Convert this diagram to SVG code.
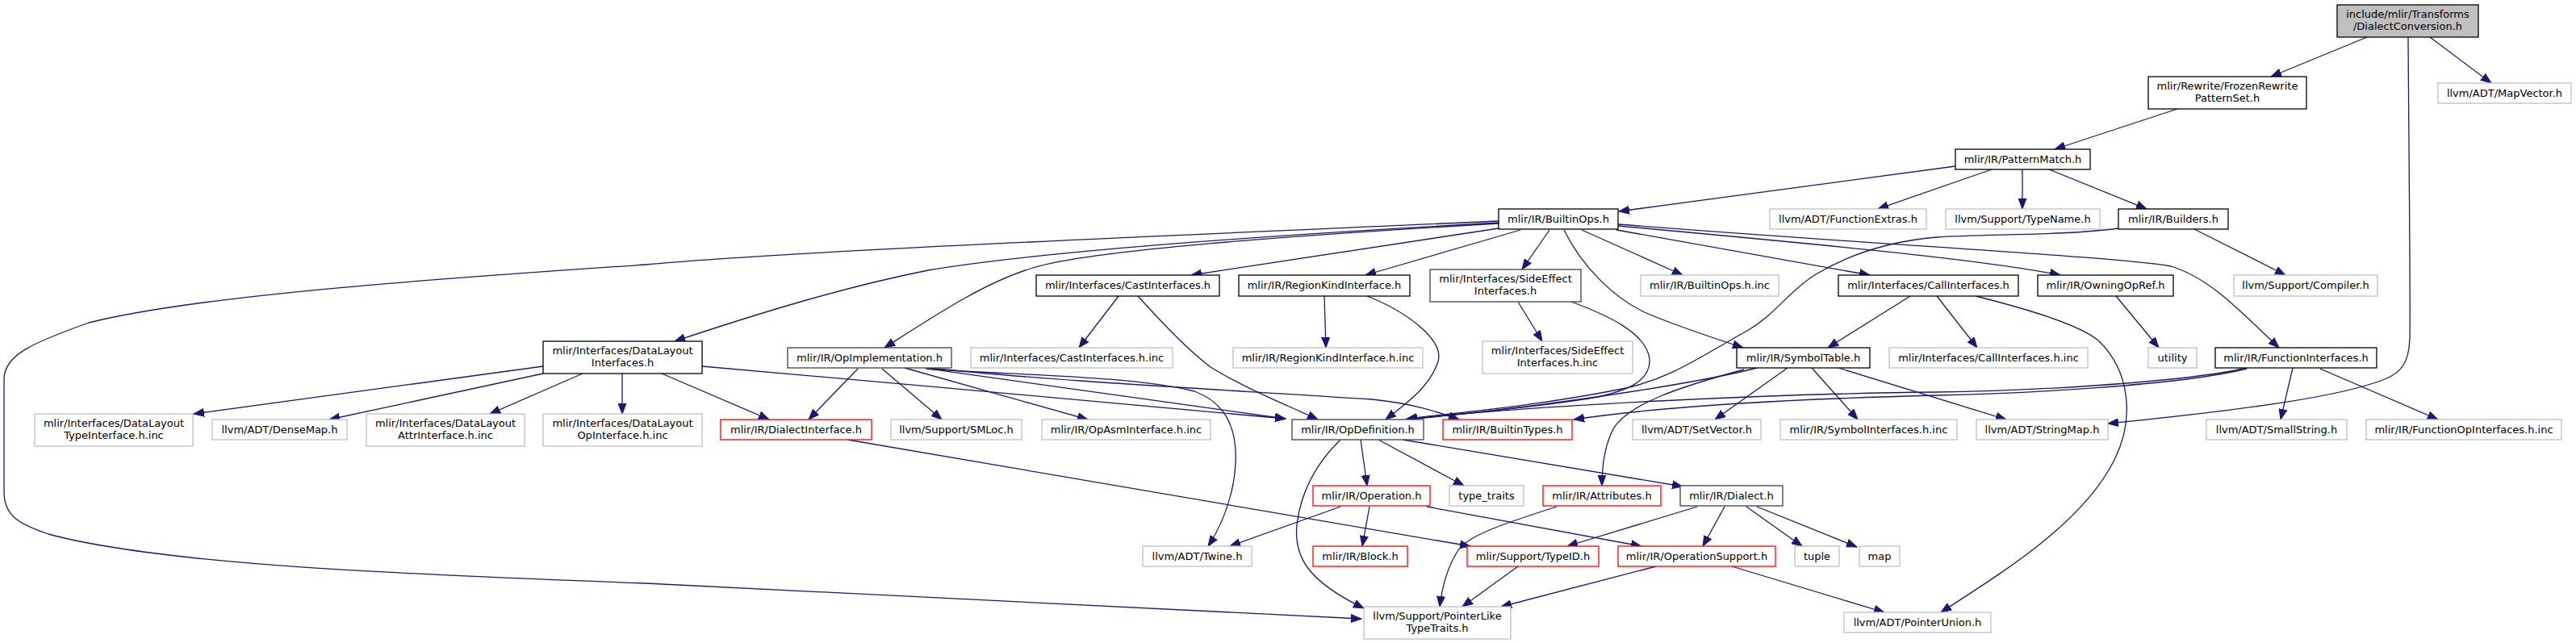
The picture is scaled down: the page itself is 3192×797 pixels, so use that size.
<svg xmlns="http://www.w3.org/2000/svg" width="3192" height="797" viewBox="0 0 3192 797">
<style>
.n rect{fill:#fff;stroke:#000;stroke-width:1.3}
.g rect{stroke:#bfbfbf}
.r rect{stroke:#ff0000}
.dk rect{stroke:#404040}
.root rect{fill:#bfbfbf}
text{font-family:"DejaVu Sans","Liberation Sans",sans-serif;font-size:13px;text-anchor:middle;fill:#000}
.e path{fill:none;stroke:#191970;stroke-width:1.3;marker-end:url(#a)}
</style>
<defs>
<marker id="a" markerUnits="userSpaceOnUse" markerWidth="14" markerHeight="11" refX="13" refY="5.5" orient="auto" viewBox="0 0 14 11"><path d="M0,0.5 L13,5.5 L0,10.5 z" fill="#191970" stroke="#191970" stroke-width="1"/></marker>
</defs>
<rect width="3192" height="797" fill="#fff"/>
<g id="edges" class="e">
<path d="M2933,46 L2814,95"/>
<path d="M3011,46 L3087,103"/>
<path d="M2984,46 C2985,200 2987,380 2986,420 C2985,450 2975,462 2955,470 C2900,492 2780,508 2612,525"/>
<path d="M2698,135 L2546,185"/>
<path d="M2423,206 L2006,262"/>
<path d="M2468,210 L2327,259"/>
<path d="M2506,210 L2506,259"/>
<path d="M2539,210 L2660,259"/>
<path d="M2719,284 L2832,341"/>
<path d="M2625,283 C2560,292 2460,290 2400,294 C2330,300 2280,322 2250,340 C2215,362 2200,390 2165,410 C2110,440 2070,470 2010,482 C1900,504 1800,512 1743,519"/>
<path d="M1857,274 C1500,290 1000,310 800,328 C550,345 250,365 110,400 C40,425 5,440 5,470 L5,610 C5,640 25,650 60,662 C200,700 500,712 800,723 C1200,745 1500,760 1687,767"/>
<path d="M1857,276 C1600,290 1300,310 1150,335 C1050,355 950,385 836,423"/>
<path d="M1857,277 C1600,292 1350,310 1280,332 C1220,350 1160,390 1096,431"/>
<path d="M1857,283 L1476,341"/>
<path d="M1884,285 L1692,341"/>
<path d="M1920,285 L1886,334"/>
<path d="M1938,285 C1960,330 2000,370 2040,388 C2080,405 2120,418 2160,431"/>
<path d="M1960,285 L2085,341"/>
<path d="M2003,285 L2317,341"/>
<path d="M2005,280 C2200,298 2450,320 2553,341"/>
<path d="M2005,278 C2350,305 2620,318 2690,330 C2740,345 2780,390 2824,431"/>
<path d="M2367,367 L2265,431"/>
<path d="M2400,367 L2450,431"/>
<path d="M2448,367 C2520,385 2580,405 2600,422 C2640,460 2645,520 2620,570 C2580,650 2480,710 2405,759"/>
<path d="M1641,367 L1643,431"/>
<path d="M1694,367 C1740,385 1790,420 1782,448 C1772,480 1740,502 1717,520"/>
<path d="M1881,374 L1911,423"/>
<path d="M1947,374 C1990,390 2040,412 2044,445 C2046,475 2010,485 1980,492 C1900,506 1800,513 1743,520"/>
<path d="M1386,367 L1337,431"/>
<path d="M1410,367 C1440,400 1470,432 1500,455 C1540,480 1590,500 1633,520"/>
<path d="M2622,367 L2675,431"/>
<path d="M2177,456 C2100,476 1900,506 1743,520"/>
<path d="M2161,458 C2080,480 2020,500 2000,530 C1988,552 1985,580 1985,602"/>
<path d="M2215,456 L2125,520"/>
<path d="M2245,456 L2302,520"/>
<path d="M2278,456 L2486,520"/>
<path d="M2784,456 C2700,475 2500,485 2400,486 C2200,488 1900,502 1743,520"/>
<path d="M2784,457 C2700,478 2500,488 2400,490 C2200,495 2050,505 1950,520"/>
<path d="M2841,456 L2826,520"/>
<path d="M2875,457 L3021,520"/>
<path d="M1063,457 L1002,520"/>
<path d="M1093,457 L1167,520"/>
<path d="M1121,456 L1348,520"/>
<path d="M1147,457 C1250,465 1400,465 1480,485 C1535,505 1535,560 1528,600 C1520,640 1505,665 1497,677"/>
<path d="M1150,457 C1300,478 1450,500 1593,519"/>
<path d="M1152,456 C1300,472 1500,482 1700,495 C1750,500 1780,510 1808,520"/>
<path d="M673,454 L240,513"/>
<path d="M673,463 L408,520"/>
<path d="M722,463 L607,513"/>
<path d="M771,463 L771,513"/>
<path d="M820,463 L953,520"/>
<path d="M870,454 C1100,475 1400,500 1593,519"/>
<path d="M1050,545 L1822,677"/>
<path d="M1686,545 L1694,602"/>
<path d="M1708,545 L1814,602"/>
<path d="M1738,545 L2085,603"/>
<path d="M1661,545 C1630,575 1612,610 1607,650 C1603,690 1620,720 1690,754"/>
<path d="M1661,628 L1524,677"/>
<path d="M1697,628 L1688,677"/>
<path d="M1768,628 L2034,677"/>
<path d="M1929,628 C1860,650 1815,665 1805,685 C1790,710 1786,735 1784,752"/>
<path d="M2103,628 L1942,677"/>
<path d="M2137,628 L2110,677"/>
<path d="M2164,628 L2233,677"/>
<path d="M2177,628 L2301,678"/>
<path d="M1881,702 L1812,752"/>
<path d="M2052,702 L1860,752"/>
<path d="M2146,702 L2335,759"/>
</g>
<g id="n_root" class="n root"><rect x="2896" y="6" width="175" height="40"/><text x="2983.5" y="21.5">include/mlir/Transforms</text><text x="2983.5" y="37">/DialectConversion.h</text></g>
<g id="n_frozen" class="n"><rect x="2662" y="95" width="196" height="40"/><text x="2760" y="110.5">mlir/Rewrite/FrozenRewrite</text><text x="2760" y="126">PatternSet.h</text></g>
<g id="n_mapvector" class="n g"><rect x="3021" y="103" width="165" height="25"/><text x="3103.5" y="120">llvm/ADT/MapVector.h</text></g>
<g id="n_patternmatch" class="n"><rect x="2423" y="185" width="167" height="25"/><text x="2506.5" y="202">mlir/IR/PatternMatch.h</text></g>
<g id="n_functionextras" class="n g"><rect x="2193" y="259" width="194" height="25"/><text x="2290" y="276">llvm/ADT/FunctionExtras.h</text></g>
<g id="n_typename" class="n g"><rect x="2411" y="259" width="191" height="25"/><text x="2506.5" y="276">llvm/Support/TypeName.h</text></g>
<g id="n_builders" class="n"><rect x="2625" y="259" width="136" height="25"/><text x="2693" y="276">mlir/IR/Builders.h</text></g>
<g id="n_builtinops" class="n"><rect x="1857" y="259" width="148" height="25"/><text x="1931" y="276">mlir/IR/BuiltinOps.h</text></g>
<g id="n_datalayout" class="n"><rect x="673" y="423" width="197" height="40"/><text x="771.5" y="438.5">mlir/Interfaces/DataLayout</text><text x="771.5" y="454">Interfaces.h</text></g>
<g id="n_opimpl" class="n dk"><rect x="976" y="431" width="203" height="25"/><text x="1077.5" y="448">mlir/IR/OpImplementation.h</text></g>
<g id="n_cast" class="n"><rect x="1284" y="341" width="227" height="26"/><text x="1397.5" y="358">mlir/Interfaces/CastInterfaces.h</text></g>
<g id="n_regionkind" class="n"><rect x="1535" y="341" width="212" height="26"/><text x="1641" y="358">mlir/IR/RegionKindInterface.h</text></g>
<g id="n_sideeffect" class="n dk"><rect x="1772" y="334" width="187" height="40"/><text x="1865.5" y="349.5">mlir/Interfaces/SideEffect</text><text x="1865.5" y="365">Interfaces.h</text></g>
<g id="n_builtinopsinc" class="n g"><rect x="2033" y="341" width="171" height="26"/><text x="2118.5" y="358">mlir/IR/BuiltinOps.h.inc</text></g>
<g id="n_callif" class="n"><rect x="2278" y="341" width="223" height="26"/><text x="2389.5" y="358">mlir/Interfaces/CallInterfaces.h</text></g>
<g id="n_owning" class="n"><rect x="2525" y="341" width="168" height="26"/><text x="2609" y="358">mlir/IR/OwningOpRef.h</text></g>
<g id="n_compiler" class="n g"><rect x="2768" y="341" width="178" height="26"/><text x="2857" y="358">llvm/Support/Compiler.h</text></g>
<g id="n_dltype" class="n g"><rect x="43" y="513" width="196" height="40"/><text x="141" y="528.5">mlir/Interfaces/DataLayout</text><text x="141" y="544">TypeInterface.h.inc</text></g>
<g id="n_densemap" class="n g"><rect x="263" y="520" width="167" height="25"/><text x="346.5" y="537">llvm/ADT/DenseMap.h</text></g>
<g id="n_dlattr" class="n g"><rect x="454" y="513" width="196" height="40"/><text x="552" y="528.5">mlir/Interfaces/DataLayout</text><text x="552" y="544">AttrInterface.h.inc</text></g>
<g id="n_dlop" class="n g"><rect x="673" y="513" width="197" height="40"/><text x="771.5" y="528.5">mlir/Interfaces/DataLayout</text><text x="771.5" y="544">OpInterface.h.inc</text></g>
<g id="n_dialectif" class="n r"><rect x="893" y="520" width="187" height="25"/><text x="986.5" y="537">mlir/IR/DialectInterface.h</text></g>
<g id="n_smloc" class="n g"><rect x="1104" y="520" width="162" height="25"/><text x="1185" y="537">llvm/Support/SMLoc.h</text></g>
<g id="n_opasm" class="n g"><rect x="1291" y="520" width="209" height="25"/><text x="1395.5" y="537">mlir/IR/OpAsmInterface.h.inc</text></g>
<g id="n_castinc" class="n g"><rect x="1203" y="431" width="250" height="25"/><text x="1328" y="448">mlir/Interfaces/CastInterfaces.h.inc</text></g>
<g id="n_regioninc" class="n g"><rect x="1528" y="431" width="235" height="25"/><text x="1645.5" y="448">mlir/IR/RegionKindInterface.h.inc</text></g>
<g id="n_sideeffectinc" class="n g"><rect x="1837" y="423" width="186" height="40"/><text x="1930" y="438.5">mlir/Interfaces/SideEffect</text><text x="1930" y="454">Interfaces.h.inc</text></g>
<g id="n_symboltable" class="n"><rect x="2152" y="431" width="165" height="25"/><text x="2234.5" y="448">mlir/IR/SymbolTable.h</text></g>
<g id="n_callinc" class="n g"><rect x="2341" y="431" width="246" height="25"/><text x="2464" y="448">mlir/Interfaces/CallInterfaces.h.inc</text></g>
<g id="n_utility" class="n g"><rect x="2662" y="431" width="60" height="25"/><text x="2692" y="448">utility</text></g>
<g id="n_funcif" class="n"><rect x="2745" y="431" width="200" height="25"/><text x="2845" y="448">mlir/IR/FunctionInterfaces.h</text></g>
<g id="n_opdef" class="n dk"><rect x="1601" y="520" width="163" height="25"/><text x="1682.5" y="537">mlir/IR/OpDefinition.h</text></g>
<g id="n_builtintypes" class="n r"><rect x="1788" y="520" width="160" height="25"/><text x="1868" y="537">mlir/IR/BuiltinTypes.h</text></g>
<g id="n_setvector" class="n g"><rect x="2023" y="520" width="159" height="25"/><text x="2102.5" y="537">llvm/ADT/SetVector.h</text></g>
<g id="n_symbolinc" class="n g"><rect x="2206" y="520" width="219" height="25"/><text x="2315.5" y="537">mlir/IR/SymbolInterfaces.h.inc</text></g>
<g id="n_stringmap" class="n g"><rect x="2449" y="520" width="163" height="25"/><text x="2530.5" y="537">llvm/ADT/StringMap.h</text></g>
<g id="n_smallstring" class="n g"><rect x="2734" y="520" width="174" height="25"/><text x="2821" y="537">llvm/ADT/SmallString.h</text></g>
<g id="n_funcopinc" class="n g"><rect x="2932" y="520" width="242" height="25"/><text x="3053" y="537">mlir/IR/FunctionOpInterfaces.h.inc</text></g>
<g id="n_operation" class="n r"><rect x="1627" y="602" width="145" height="25"/><text x="1699.5" y="619">mlir/IR/Operation.h</text></g>
<g id="n_typetraits" class="n g"><rect x="1796" y="602" width="92" height="25"/><text x="1842" y="619">type_traits</text></g>
<g id="n_attributes" class="n r"><rect x="1912" y="602" width="146" height="25"/><text x="1985" y="619">mlir/IR/Attributes.h</text></g>
<g id="n_dialect" class="n dk"><rect x="2082" y="602" width="127" height="25"/><text x="2145.5" y="619">mlir/IR/Dialect.h</text></g>
<g id="n_twine" class="n g"><rect x="1416" y="677" width="135" height="25"/><text x="1483.5" y="694">llvm/ADT/Twine.h</text></g>
<g id="n_block" class="n r"><rect x="1627" y="677" width="117" height="25"/><text x="1685.5" y="694">mlir/IR/Block.h</text></g>
<g id="n_typeid" class="n r"><rect x="1818" y="677" width="163" height="25"/><text x="1899.5" y="694">mlir/Support/TypeID.h</text></g>
<g id="n_opsupport" class="n r"><rect x="2005" y="677" width="195" height="25"/><text x="2102.5" y="694">mlir/IR/OperationSupport.h</text></g>
<g id="n_tuple" class="n g"><rect x="2224" y="677" width="55" height="25"/><text x="2251.5" y="694">tuple</text></g>
<g id="n_map" class="n g"><rect x="2304" y="677" width="50" height="25"/><text x="2329" y="694">map</text></g>
<g id="n_pointerlike" class="n g"><rect x="1690" y="752" width="182" height="40"/><text x="1781" y="767.5">llvm/Support/PointerLike</text><text x="1781" y="783">TypeTraits.h</text></g>
<g id="n_pointerunion" class="n g"><rect x="2285" y="759" width="182" height="25"/><text x="2376" y="776">llvm/ADT/PointerUnion.h</text></g>
</svg>
